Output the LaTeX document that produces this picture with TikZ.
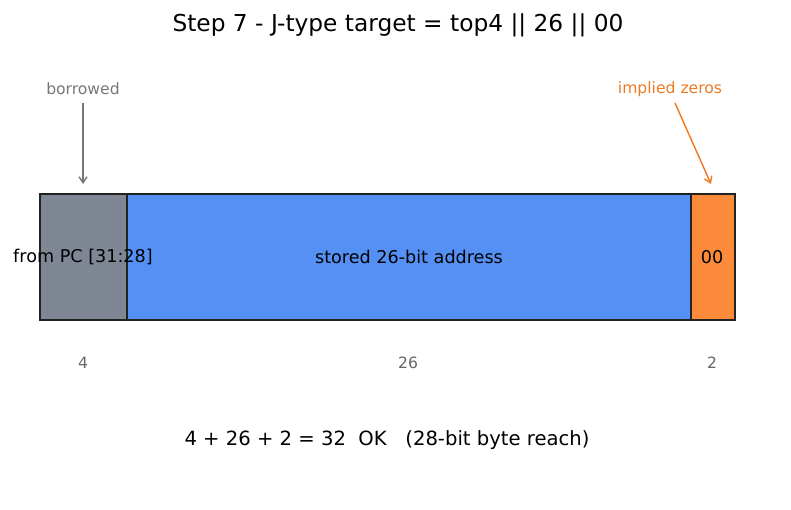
\documentclass[tikz,border=0pt]{standalone}
\usepackage{fontspec}
\setmainfont{DejaVu Sans}
\usetikzlibrary{arrows.meta}
\definecolor{grayfill}{HTML}{7F8794}
\definecolor{bluefill}{HTML}{5591F5}
\definecolor{orangefill}{HTML}{FB8A3A}
\definecolor{edge}{HTML}{222222}
\definecolor{annogray}{HTML}{777777}
\definecolor{annoorange}{HTML}{EE7A24}
\definecolor{numgray}{HTML}{666666}
\tikzset{
  field/.style={draw=edge, line width=1.8pt, inner sep=0pt, outer sep=0pt, anchor=north west},
  boxlabel/.style={font=\fontsize{17.6}{20}\selectfont, text=black},
  anno/.style={font=\fontsize{15.6}{18}\selectfont},
  numlabel/.style={font=\fontsize{15.6}{18}\selectfont, text=numgray},
  pointer/.style={-{Straight Barb[length=6pt,width=8pt]}, line width=1.4pt}
}
\begin{document}
\begin{tikzpicture}[x=1pt,y=-1pt]
\useasboundingbox (0,0) rectangle (791,510);
\node[font=\fontsize{23.3}{27}\selectfont] (title) at (398,25) {Step 7 - J-type target = top4 || 26 || 00};
\node[field, fill=grayfill, minimum width=87pt, minimum height=126pt] (pc) at (40,194) {};
\node[field, fill=bluefill, minimum width=564pt, minimum height=126pt] (stored) at (127,194) {};
\node[field, fill=orangefill, minimum width=44pt, minimum height=126pt] (zeros) at (691,194) {};
\node[boxlabel] (pclab) at (83,257) {from PC [31:28]};
\node[boxlabel] (storedlab) at (409,257) {stored 26-bit address};
\node[boxlabel] (zeroslab) at (712,257) {00};
\node[anno, text=annogray] (borrowed) at (83,89) {borrowed};
\node[anno, text=annoorange] (implied) at (670,89) {implied zeros};
\coordinate (bend) at (83,184);
\coordinate (iend) at (711,184);
\draw[pointer, draw=annogray] (83,103) -- (bend);
\draw[pointer, draw=annoorange] (675,103) -- (iend);
\node[numlabel] (n4) at (83,363) {4};
\node[numlabel] (n26) at (408,363) {26};
\node[numlabel] (n2) at (712,363) {2};
\node[font=\fontsize{19.6}{23}\selectfont] (sum) at (387,440) {4 + 26 + 2 = 32\ \ OK\ \ \ (28-bit byte reach)};
\end{tikzpicture}
\end{document}
